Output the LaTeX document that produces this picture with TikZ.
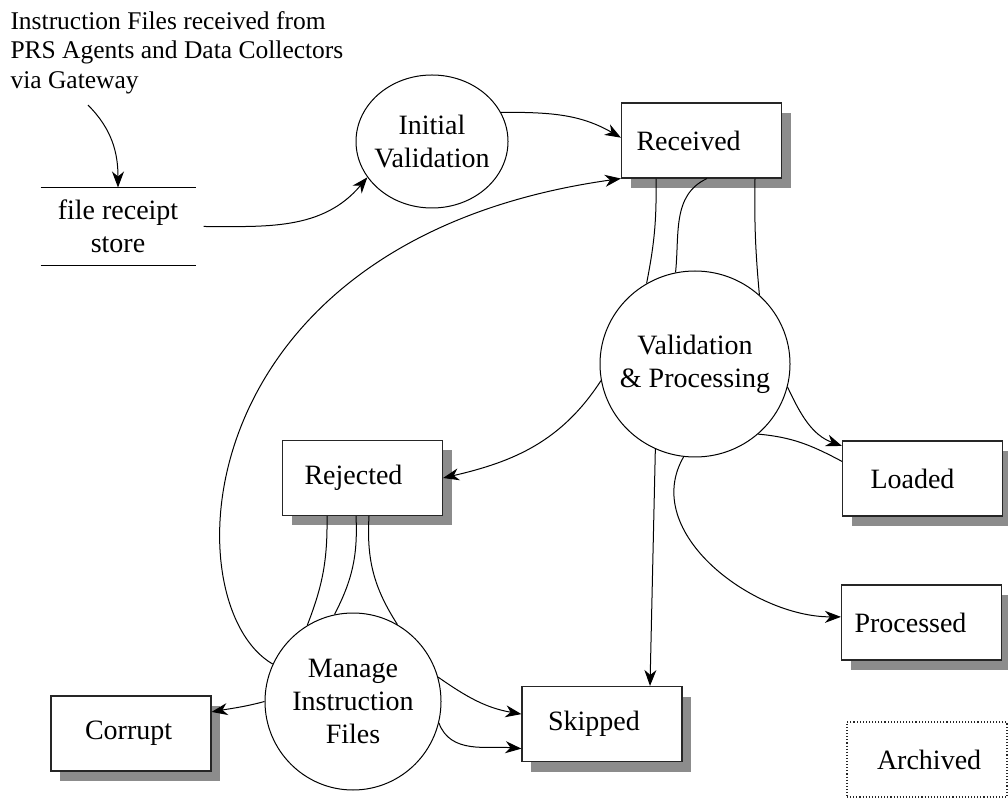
\documentclass[tikz,border=0pt]{standalone}
\usepackage{fontspec}
\setmainfont{Liberation Serif}
\usetikzlibrary{arrows.meta,shapes.geometric,shadows}

\tikzset{
  box/.style={draw=black!85, line width=1.1pt, fill=white, minimum height=75pt,
    align=left, inner xsep=#1, text width={160pt-2*#1}},
  state/.style={box=#1, drop shadow={shadow xshift=9pt, shadow yshift=-10pt,
    fill=black!45, opacity=1}},
  process/.style={ellipse, draw, line width=1pt, fill=white, align=center,
    inner sep=-10pt},
  flow/.style={-{Stealth[length=16pt,width=12pt,inset=5pt]}},
}

\begin{document}
\begin{tikzpicture}[x=1pt, y=1pt, line width=1pt, font=\fontsize{28}{33}\selectfont]
  \useasboundingbox (0,0) rectangle (1008,798);

  % where the files come in
  \node[anchor=north west, align=left, inner sep=0pt, font=\fontsize{25.5}{29.5}\selectfont]
    (source) at (10,787.4) {Instruction Files received from\\PRS Agents and Data Collectors\\via Gateway};
  \node[align=center, minimum width=154pt, minimum height=77pt] (store) at (118,571.5) {file receipt\\store};
  \draw (store.north west) -- (store.north east) (store.south west) -- (store.south east);

  % processes
  \node[process, minimum width=152pt, minimum height=133pt] (initial) at (432,656.5) {Initial\\Validation};
  \node[process, minimum width=190pt, minimum height=186pt] (valid) at (695,434) {Validation\\\& Processing};
  \node[process, minimum width=176pt, minimum height=177pt] (manage) at (353,96.5) {Manage\\Instruction\\Files};

  % states
  \node[state=15pt] (received)  at (701.5,657.5) {Received};
  \node[state=28pt] (loaded)    at (922.5,319.5) {Loaded};
  \node[state=13pt] (processed) at (921.5,175.5) {Processed};
  \node[state=22pt] (rejected)  at (362.5,320)   {Rejected};
  \node[state=26pt] (skipped)   at (602,74)      {Skipped};
  \node[state=34pt] (corrupt)   at (131,64.5)    {Corrupt};
  \node[box=30pt, dotted] (archived) at (927,38.5) {Archived};

  \begin{scope}[every edge/.style={draw}]
    \path ([xshift=78pt,yshift=-11pt]source.south west) edge[flow, out=-45, in=90] (store.north);
    \path (store.east) edge[flow, shorten <=8pt, out=0, in=230] (initial.209);
    \path (initial.23) edge[flow, out=0, in=150] (received.178);
    \path (manage.155) edge[flow, out=150, in=188, out looseness=0.5, in looseness=1.9] (received.south west);

    \path ([xshift=-45.5pt]received.south) edge[bend left=6] (valid.121);
    \path ([xshift=5.5pt]received.south)   edge[out=205, in=84] (valid.102);
    \path ([xshift=53.5pt]received.south)  edge[bend right=3] (valid.47);

    \path (valid.346) edge[flow, out=-65, in=160] (loaded.158);
    \path (valid.312) edge[out=-5, in=152] (loaded.168);
    \path (valid.263) edge[flow, out=240, in=180] (processed.176);
    \path (valid.245) edge[flow] ([xshift=48pt]skipped.north);
    \path (valid.190) edge[flow, out=237, in=13] (rejected.east);

    \path ([xshift=-35.5pt]rejected.south) edge[bend left=11] (manage.121);
    \path ([xshift=-6.5pt]rejected.south)  edge[bend left=15] (manage.102);
    \path ([xshift=6.5pt]rejected.south)   edge[bend right=18] (manage.60);

    \path (manage.180) edge[flow, out=195, in=10] (corrupt.15);
    \path (manage.16)  edge[flow, out=-35, in=170] (skipped.173);
    \path (manage.346) edge[flow, out=-70, in=175] (skipped.197);
  \end{scope}

\end{tikzpicture}
\end{document}
